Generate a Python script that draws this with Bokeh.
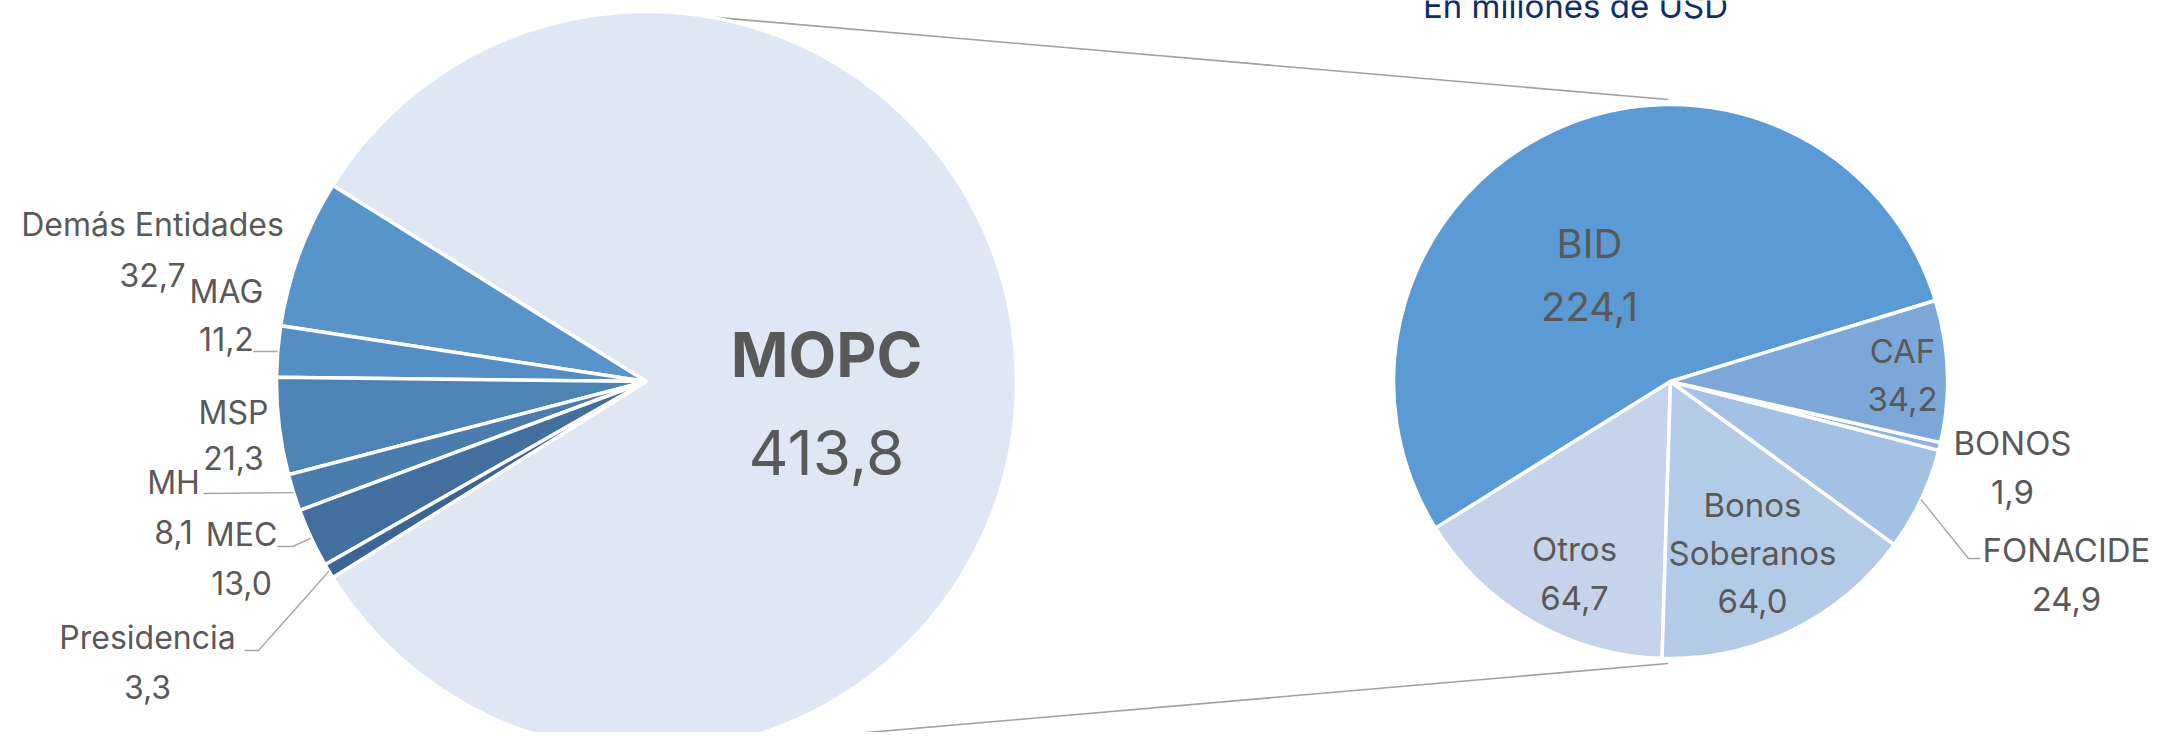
import math
from bokeh.plotting import figure
from bokeh.models import Range1d, ColumnDataSource
from bokeh.core.properties import value
from bokeh.embed import file_html
from bokeh.resources import INLINE

# ---------------- data ----------------
left_names = ["Demás Entidades", "MAG", "MSP", "MH", "MEC", "Presidencia", "MOPC"]
left_values = [32.7, 11.2, 21.3, 8.1, 13.0, 3.3, 413.8]
right_names = ["BID", "Otros", "Bonos Soberanos", "FONACIDE", "BONOS", "CAF"]
right_values = [224.1, 64.7, 64.0, 24.9, 1.9, 34.2]
title_text = "En millones de USD"

# ---------------- styles / layout ----------------
left_colors = ["#5794CA", "#538EC5", "#4D84B6", "#4A7DAE", "#426F9E", "#3B6592", "#DFE7F4"]
right_colors = ["#5B9BD5", "#C5D4EA", "#B4CBE8", "#A3C0E5", "#8EB3DF", "#7CA8D9"]
TXT = "#595959"
FONT = "Inter"
IMG_H = 748
W, H = 2154, 732

LEFT_C = (646, 381)   # screen px
LEFT_R = 370
RIGHT_C = (1670, 381)
RIGHT_R = 277
RIGHT_START = 17.0

# label anchors (screen px of first line center), line gap, font size
left_lab = {
    "Demás Entidades": (152, 224, 50, 32),
    "MAG": (226, 291, 47, 32),
    "MSP": (233, 412, 45, 32),
    "MH": (173, 482, 49, 32),
    "MEC": (241, 534, 48, 32),
    "Presidencia": (147, 637, 49, 32),
    "MOPC": (826, 354, 98, 62),
}
right_lab = {
    "BID": (1589, 243, 63, 40),
    "Otros": (1574, 548, 49, 33),
    "Bonos Soberanos": (1752, 504, 48, 33),
    "FONACIDE": (2066, 549, 49, 33),
    "BONOS": (2012, 442, 49, 33),
    "CAF": (1902, 350, 48, 33),
}
split_lines = {"Bonos Soberanos": ["Bonos", "Soberanos"]}
leaders = {
    ("L", "MAG"): [(253, 351)],
    ("L", "MH"): [(203, 493)],
    ("L", "MEC"): [(292, 546), (277, 546)],
    ("L", "Presidencia"): [(258, 650), (244, 650)],
    ("R", "FONACIDE"): [(1968, 558), (1980, 558)],
}


def sy(Y):
    return IMG_H - Y


def fmt(v):
    return f"{v:.1f}".replace(".", ",")


def wedges(values, start):
    tot = sum(values)
    s, out = start, []
    for v in values:
        e = s + v / tot * 360.0
        out.append((s, e))
        s = e
    return out


lt = sum(left_values)
small = sum(left_values[:-1])
left_start = 180.0 - small / lt * 180.0
lw = wedges(left_values, left_start)
rw = wedges(right_values, RIGHT_START)

p = figure(width=W, height=H, x_range=Range1d(0, W), y_range=Range1d(IMG_H - H, IMG_H),
           output_backend="svg", toolbar_location=None, x_axis_type=None, y_axis_type=None,
           min_border=0)
p.grid.visible = False
p.outline_line_color = None
p.background_fill_color = "white"
p.border_fill_color = "white"

lcx, lcy = LEFT_C[0], sy(LEFT_C[1])
rcx, rcy = RIGHT_C[0], sy(RIGHT_C[1])

# connector lines
for sgn in (1, -1):
    a1 = math.radians(80.2 * sgn)
    a2 = math.radians(90.5 * sgn)
    p.line([lcx + LEFT_R * math.cos(a1), rcx + (RIGHT_R + 5) * math.cos(a2)],
           [lcy + LEFT_R * math.sin(a1), rcy + (RIGHT_R + 5) * math.sin(a2)],
           line_color="#A0A0A0", line_width=1.6)

# pies
R = math.radians
src_l = ColumnDataSource(dict(x=[lcx] * len(lw), y=[lcy] * len(lw),
                              s=[R(a) for a, b in lw], e=[R(b) for a, b in lw], c=left_colors,
                              name=left_names, v=left_values))
p.wedge(x="x", y="y", radius=LEFT_R, start_angle="s", end_angle="e",
        fill_color="c", line_color="white", line_width=3.5, source=src_l)
src_r = ColumnDataSource(dict(x=[rcx] * len(rw), y=[rcy] * len(rw),
                              s=[R(a) for a, b in rw], e=[R(b) for a, b in rw], c=right_colors,
                              name=right_names, v=right_values))
p.wedge(x="x", y="y", radius=RIGHT_R, start_angle="s", end_angle="e",
        fill_color="c", line_color="white", line_width=3.5, source=src_r)

# leader lines
for (side, name), pts in leaders.items():
    if side == "L":
        i = left_names.index(name); s, e = lw[i]; cx, cy, r = lcx, lcy, LEFT_R
    else:
        i = right_names.index(name); s, e = rw[i]; cx, cy, r = rcx, rcy, RIGHT_R
    m = math.radians((s + e) / 2)
    xs = [cx + r * math.cos(m)] + [q[0] for q in pts]
    ys = [cy + r * math.sin(m)] + [sy(q[1]) for q in pts]
    p.line(xs, ys, line_color="#A6A6A6", line_width=1.4)

# labels
rows = dict(x=[], y=[], t=[], fs=[], st=[])
for names, vals, lab in ((left_names, left_values, left_lab), (right_names, right_values, right_lab)):
    for n, v in zip(names, vals):
        X, Y, gap, fs = lab[n]
        lines = split_lines.get(n, [n]) + [fmt(v)]
        for k, t in enumerate(lines):
            rows["x"].append(X)
            rows["y"].append(sy(Y + k * gap))
            rows["t"].append(t)
            rows["fs"].append(f"{fs}px")
            rows["st"].append("bold" if (n == "MOPC" and k == 0) else "normal")
src_t = ColumnDataSource(rows)
p.text(x="x", y="y", text="t", text_font_size="fs", text_font_style="st", source=src_t,
       text_align="center", text_baseline="middle", text_color=TXT, text_font=value(FONT))

# title (cut by top edge as in reference): cap-centre placed ~12px above baseline at y=17
p.text(x=[1575], y=[sy(5)], text=[title_text], text_align="center", text_baseline="middle",
       text_color="#0E2D6D", text_font=value(FONT), text_font_size="33px")

open("out.html", "w").write(file_html(p, INLINE))
